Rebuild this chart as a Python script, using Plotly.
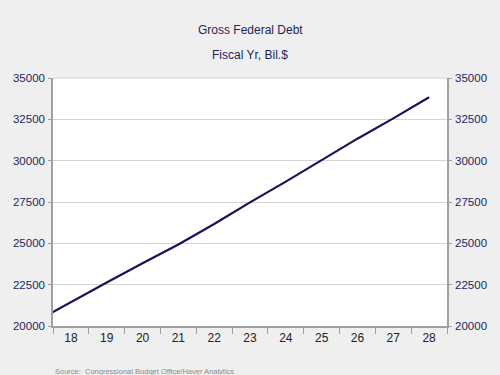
import plotly.graph_objects as go

years = [17, 18, 19, 20, 21, 22, 23, 24, 25, 26, 27, 28]
debt = [20245, 21450, 22630, 23800, 24930, 26170, 27480, 28730, 30040, 31330, 32560, 33840]
tick_labels = ["18", "19", "20", "21", "22", "23", "24", "25", "26", "27", "28"]
tick_centers = [18, 19, 20, 21, 22, 23, 24, 25, 26, 27, 28]
y_ticks = [20000, 22500, 25000, 27500, 30000, 32500, 35000]
y_labels = ["20000", "22500", "25000", "27500", "30000", "32500", "35000"]

W, H = 500, 375
L, R, T, B = 53, 53, 78, 49
ph = H - T - B

def py(pix):
    return (H - B - pix) / ph

navy = "#1f1f5c"
fig = go.Figure()
fig.add_trace(go.Scatter(x=years, y=debt, mode="lines",
                         line=dict(color="#14145a", width=2.2), showlegend=False,
                         hoverinfo="skip"))
fig.add_trace(go.Scatter(x=years, y=debt, mode="lines", yaxis="y2",
                         line=dict(color="rgba(0,0,0,0)", width=0), showlegend=False,
                         hoverinfo="skip"))

fig.update_layout(
    width=W, height=H,
    margin=dict(l=L, r=R, t=T, b=B),
    paper_bgcolor="#efefef",
    plot_bgcolor="#ffffff",
    font=dict(family="Arial, Liberation Sans, sans-serif"),
    xaxis=dict(range=[17.5, 28.5], tickvals=tick_centers, ticktext=tick_labels,
               ticks="", showgrid=False, zeroline=False,
               showline=True, linecolor="#a0a0a0", linewidth=1.5,
               tickfont=dict(size=12, color="#222222"),
               minor=dict(tickvals=[17.5 + i for i in range(12)], ticks="outside",
                          ticklen=6, tickcolor="#a0a0a0", tickwidth=1, showgrid=False)),
    yaxis=dict(range=[20000, 35000], tickvals=y_ticks, ticktext=y_labels,
               ticks="outside", ticklen=3, tickcolor="#a0a0a0",
               showgrid=True, gridcolor="#d4d4d4", gridwidth=1, zeroline=False,
               showline=True, linecolor="#a0a0a0", linewidth=1.5,
               tickfont=dict(size=11.5, color=navy), ticklabelstandoff=1),
    yaxis2=dict(range=[20000, 35000], tickvals=y_ticks, ticktext=y_labels,
                overlaying="y", side="right",
                ticks="outside", ticklen=3, tickcolor="#a0a0a0",
                showgrid=False, zeroline=False,
                showline=True, linecolor="#a0a0a0", linewidth=1.5,
                tickfont=dict(size=11.5, color=navy), ticklabelstandoff=1),
    shapes=[dict(type="line", xref="paper", yref="paper", x0=0, x1=1, y0=1, y1=1,
                 line=dict(color="#d4d4d4", width=1))],
    annotations=[
        dict(text="Gross Federal Debt", xref="paper", yref="paper", x=0.5, y=py(30),
             xanchor="center", yanchor="middle", showarrow=False,
             font=dict(size=12, color=navy)),
        dict(text="Fiscal Yr, Bil.$", xref="paper", yref="paper", x=0.5, y=py(55),
             xanchor="center", yanchor="middle", showarrow=False,
             font=dict(size=12, color=navy)),
        dict(text="Source:  Congressional Budget Office/Haver Analytics", xref="paper",
             yref="paper", x=0, y=py(371), xanchor="left", yanchor="middle",
             showarrow=False, font=dict(size=7.5, color="#8a8a8a")),
    ],
)

fig.write_html("out.html")
